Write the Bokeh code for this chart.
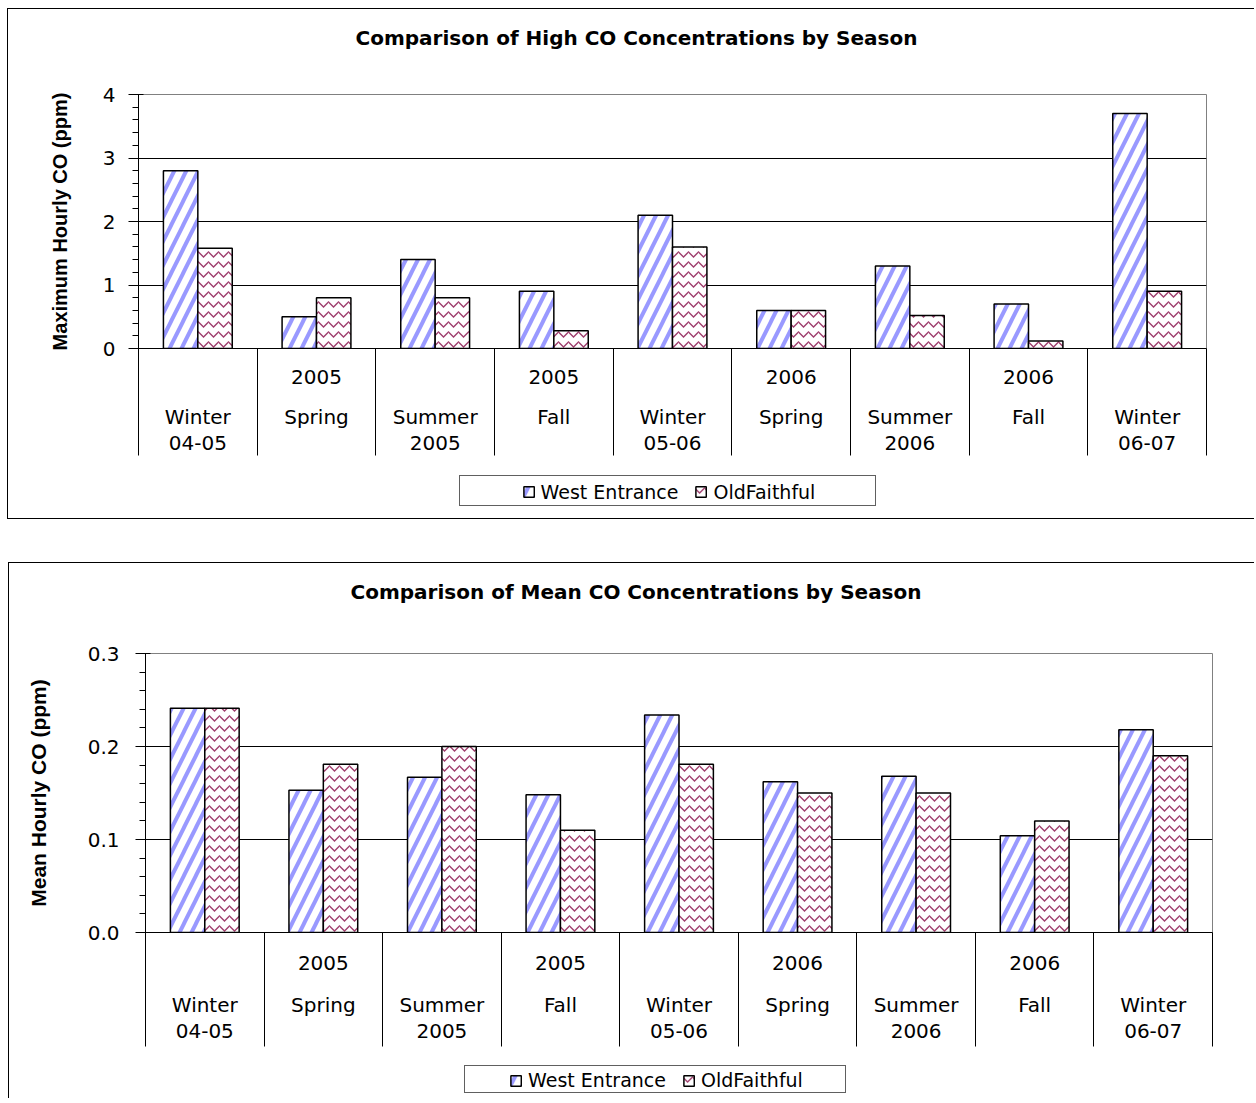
from bokeh.plotting import figure
from bokeh.models import (ColumnDataSource, Range1d, LinearAxis, FixedTicker,
                          NumeralTickFormatter, Legend, LegendItem)
from bokeh.transform import dodge
from bokeh.embed import file_html
from bokeh.resources import INLINE

# ---------------- data ----------------
seasons = ["Winter 04-05", "Spring 2005", "Summer 2005", "Fall 2005", "Winter 05-06",
           "Spring 2006", "Summer 2006", "Fall 2006", "Winter 06-07"]
label_row_year = ["", "2005", "", "2005", "", "2006", "", "2006", ""]
label_row_season = ["Winter", "Spring", "Summer", "Fall", "Winter", "Spring", "Summer", "Fall", "Winter"]
label_row_extra = ["04-05", "", "2005", "", "05-06", "", "2006", "", "06-07"]

series_names = ["West Entrance", "OldFaithful"]

max_west = [2.8, 0.5, 1.4, 0.9, 2.1, 0.6, 1.3, 0.7, 3.7]
max_old = [1.58, 0.8, 0.8, 0.28, 1.6, 0.6, 0.52, 0.12, 0.9]

mean_west = [0.241, 0.153, 0.167, 0.148, 0.234, 0.162, 0.168, 0.104, 0.218]
mean_old = [0.241, 0.181, 0.200, 0.110, 0.181, 0.150, 0.150, 0.120, 0.190]

max_yticks = [0, 1, 2, 3, 4]
mean_yticks = [0.0, 0.1, 0.2, 0.3]

titles = ["Comparison of High CO Concentrations by Season",
          "Comparison of Mean CO Concentrations by Season"]
ylabels = ["Maximum Hourly CO (ppm)", "Mean Hourly CO (ppm)"]

FONT = "DejaVu Sans"
WEST_STYLE = dict(fill_color="white", line_color="black", line_width=1.5,
                  hatch_pattern="right_diagonal_line", hatch_color="#9999FF",
                  hatch_weight=4, hatch_scale=24)
OLD_STYLE = dict(fill_color="white", line_color="black", line_width=1.5,
                 hatch_pattern="horizontal_wave", hatch_color="#A0406E",
                 hatch_weight=1.4, hatch_scale=10)


def make_source(west, old):
    pos = list(range(1, len(seasons) + 1))
    return ColumnDataSource(dict(pos=pos, season=seasons, west=west, old=old))


def make_chart(title, ylabel, src, yticks, yfmt, cfg):
    n = len(seasons)
    pos = list(range(1, n + 1))

    p = figure(width=cfg["width"], height=cfg["height"], output_backend="svg",
               toolbar_location=None, title=title,
               x_range=Range1d(0.5, n + 0.5), y_range=Range1d(yticks[0], yticks[-1]),
               x_axis_type=None,
               min_border_left=cfg["mbl"], min_border_right=cfg["mbr"],
               min_border_top=cfg["mbt"], min_border_bottom=cfg["mbb"])
    p.styles = cfg["css"]
    p.margin = cfg["margin"]
    p.outline_line_color = "#808080"
    p.outline_line_width = 1
    p.background_fill_color = "white"
    p.border_fill_color = "white"

    p.title.text_font = FONT
    p.title.text_font_style = "bold"
    p.title.text_font_size = "20px"
    p.title.text_color = "black"
    p.title.align = "left"
    p.title.offset = cfg["title_offset"]
    p.title.standoff = 10

    # invisible spacer between the frame and the title
    spacer = LinearAxis(ticker=FixedTicker(ticks=[pos[0]]),
                        major_label_overrides={pos[0]: ""},
                        major_label_text_font_size="1px",
                        axis_line_color=None,
                        major_tick_line_color=None, minor_tick_line_color=None,
                        major_tick_out=cfg["title_gap"], major_tick_in=0,
                        minor_tick_out=0, minor_tick_in=0, major_label_standoff=0)
    p.add_layout(spacer, "above")

    p.vbar(x=dodge("pos", -0.145), top="west", width=0.29, source=src, **WEST_STYLE)
    p.vbar(x=dodge("pos", 0.145), top="old", width=0.29, source=src, **OLD_STYLE)

    # y axis
    step = yticks[1] - yticks[0]
    minor = [t + step * k / 5 for t in yticks[:-1] for k in range(1, 5)]
    yt = FixedTicker(ticks=yticks, minor_ticks=minor)
    ya = p.yaxis[0]
    ya.ticker = yt
    p.ygrid.ticker = yt
    p.ygrid.grid_line_color = "black"
    p.ygrid.grid_line_width = 1
    ya.formatter = NumeralTickFormatter(format=yfmt)
    ya.major_label_text_font = FONT
    ya.major_label_text_font_size = "20px"
    ya.major_label_text_color = "black"
    ya.major_label_standoff = cfg["ystand"]
    ya.major_tick_out = 10
    ya.major_tick_in = 5
    ya.minor_tick_out = 6
    ya.minor_tick_in = 0
    ya.axis_line_color = "black"
    ya.major_tick_line_color = "black"
    ya.minor_tick_line_color = "black"
    ya.axis_label = ylabel
    ya.axis_label_text_font = "Liberation Sans"
    ya.axis_label_text_font_style = "bold"
    ya.axis_label_text_font_size = cfg["ylab_size"]
    ya.axis_label_text_color = "black"
    ya.axis_label_standoff = cfg["ylab_stand"]

    # category axis: three label rows, separators as long minor ticks
    boundaries = [i + 0.5 for i in range(n + 1)]
    rows = [label_row_year, label_row_season, label_row_extra]
    for k, row in enumerate(rows):
        ax = LinearAxis(ticker=FixedTicker(ticks=pos, minor_ticks=boundaries if k == 0 else []),
                        major_label_overrides={pos[i]: row[i] for i in range(n)},
                        major_label_standoff=cfg["xstand"][k],
                        major_label_text_font=FONT, major_label_text_font_size="20px",
                        major_label_text_color="black",
                        major_tick_out=0, major_tick_in=0, major_tick_line_color=None)
        if k == 0:
            ax.minor_tick_out = cfg["sep"]
            ax.minor_tick_in = 0
            ax.minor_tick_line_color = "black"
            ax.axis_line_color = "black"
        else:
            ax.minor_tick_out = 0
            ax.minor_tick_in = 0
            ax.minor_tick_line_color = None
            ax.axis_line_color = None
        p.add_layout(ax, "below")
    return p


def make_legend_box(src, cfg):
    lf = figure(width=cfg["width"], height=cfg["height"], output_backend="svg",
                toolbar_location=None, x_axis_type=None, y_axis_type=None,
                x_range=Range1d(0, 1), y_range=Range1d(0, 1), min_border=0)
    lf.styles = {"border": "1px solid #606060"}
    lf.margin = cfg["margin"]
    lf.outline_line_color = None
    lf.background_fill_color = "white"
    lf.border_fill_color = "white"
    ra = lf.vbar(x=dodge("pos", -0.145), top="west", width=0.29, source=src,
                 visible=False, **WEST_STYLE)
    rb = lf.vbar(x=dodge("pos", 0.145), top="old", width=0.29, source=src,
                 visible=False, **OLD_STYLE)
    leg = Legend(items=[LegendItem(label=series_names[0], renderers=[ra]),
                        LegendItem(label=series_names[1], renderers=[rb])],
                 orientation="horizontal", location="center",
                 border_line_color=None, background_fill_alpha=0.0,
                 label_text_font=FONT, label_text_font_size="19px",
                 label_text_color="black",
                 glyph_width=13, glyph_height=13, padding=2, spacing=16,
                 label_standoff=6, margin=0, click_policy="none")
    lf.add_layout(leg)
    return lf


cfg_top = dict(width=1247, height=511, mbl=130, mbr=49, mbt=85, mbb=172,
               margin=(8, 0, 0, 7),
               css={"border-left": "1px solid #000", "border-top": "1px solid #000",
                    "border-bottom": "1px solid #000"},
               title_offset=217, title_gap=40,
               ystand=13, ylab_size="20px", ylab_stand=29,
               xstand=[-86, 18, 4], sep=107)
cfg_bot = dict(width=1246, height=536, mbl=136, mbr=43, mbt=90, mbb=167,
               margin=(56, 0, 0, 8),
               css={"border-left": "1px solid #000", "border-top": "1px solid #000"},
               title_offset=205, title_gap=45,
               ystand=16, ylab_size="21px", ylab_stand=35,
               xstand=[-91, 20, 4], sep=114)
leg_top = dict(width=417, height=31, margin=(-44, 0, 0, 459))
leg_bot = dict(width=382, height=28, margin=(-33, 0, 0, 464))

src_max = make_source(max_west, max_old)
src_mean = make_source(mean_west, mean_old)

p1 = make_chart(titles[0], ylabels[0], src_max, max_yticks, "0", cfg_top)
l1 = make_legend_box(src_max, leg_top)
p2 = make_chart(titles[1], ylabels[1], src_mean, mean_yticks, "0.0", cfg_bot)
l2 = make_legend_box(src_mean, leg_bot)

open("out.html", "w").write(file_html([p1, l1, p2, l2], INLINE))
